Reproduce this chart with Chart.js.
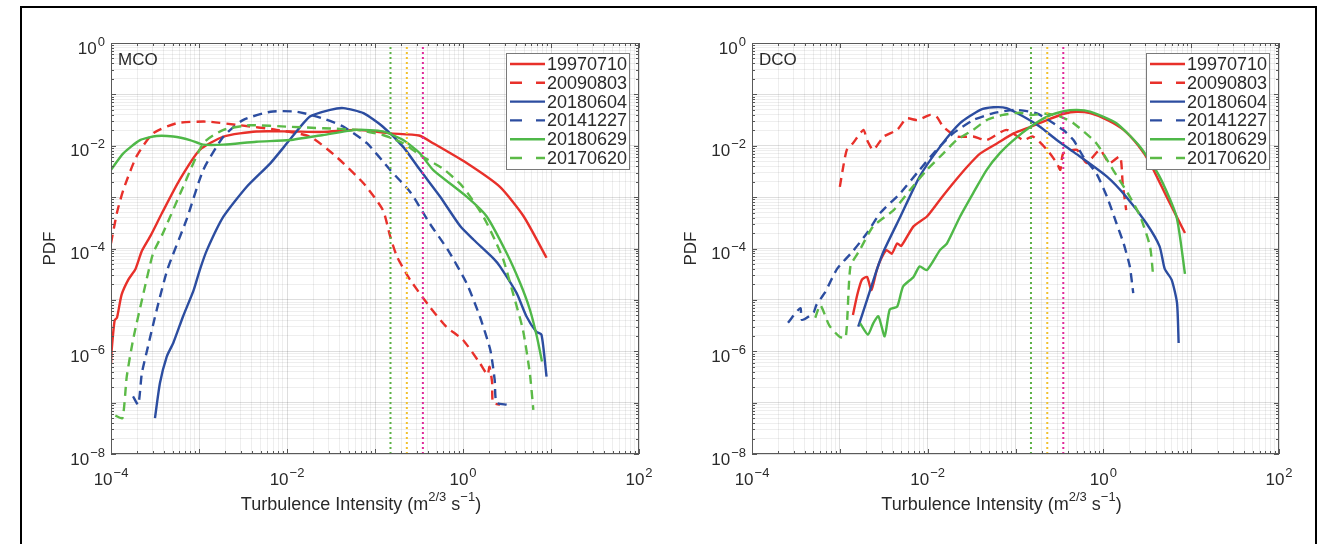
<!DOCTYPE html>
<html>
<head>
<meta charset="utf-8">
<script src="https://cdn.jsdelivr.net/npm/chart.js@4.4.1/dist/chart.umd.min.js"></script>
<style>
    html, body { margin: 0; padding: 0; background: #fff; }
    #fig { position: relative; width: 1323px; height: 544px; overflow: hidden; background: #fff; }
    #frame { position: absolute; left: 20px; top: 6px; width: 1297px; height: 600px; border: 2px solid #000; box-sizing: border-box; }
    .panel { position: absolute; top: 0; height: 544px; }
</style>
</head>
<body>
<div id="fig">
    <div id="frame"></div>
    <div class="panel" style="left:0;width:661px"><canvas id="chart-mco"></canvas></div>
    <div class="panel" style="left:661px;width:662px"><canvas id="chart-dco"></canvas></div>
</div>
<script>
// ─── Data ─────────────────────────────────────────────────────────────────────
const seriesLabels = ["19970710", "20090803", "20180604", "20141227", "20180629", "20170620"];
const seriesColors = ["#e8302a", "#e8302a", "#2c4da0", "#2c4da0", "#4fb848", "#5cba47"];
const seriesDashed = [false, true, false, true, false, true];

// vertical dotted reference lines (same in both panels)
const refLineX = [0.15, 0.23, 0.35];
const refLineColors = ["#5cb245", "#f2c12e", "#e0299a"];

const xTickValues = [1e-4, 1e-2, 1, 1e2];
const xTickExps = ["\u22124", "\u22122", "0", "2"];
const yTickValues = [1e-8, 1e-6, 1e-4, 1e-2, 1];
const yTickExps = ["\u22128", "\u22126", "\u22124", "\u22122", "0"];

// MCO panel, [turbulence intensity, pdf]
const mco19970710 = [
    [1.0e-4, 5.6e-7], [1.02e-4, 1.1e-6], [1.1e-4, 4.0e-6], [1.17e-4, 4.5e-6], [1.32e-4, 1.26e-5],
    [1.58e-4, 2.5e-5], [1.9e-4, 4.0e-5], [2.24e-4, 8.9e-5], [2.82e-4, 1.78e-4], [3.8e-4, 4.9e-4],
    [6.0e-4, 2.14e-3], [1.02e-3, 8.3e-3], [1.9e-3, 1.51e-2], [4.5e-3, 1.9e-2], [1.07e-2, 1.9e-2],
    [2.57e-2, 1.86e-2], [6.2e-2, 2.04e-2], [0.148, 1.74e-2], [0.316, 1.58e-2], [0.457, 1.12e-2],
    [1.1, 4.6e-3], [2.63, 1.58e-3], [4.9, 4.2e-4], [8.9, 6.6e-5],
];
const mco20090803 = [
    [1.0e-4, 1.26e-4], [1.17e-4, 5.0e-4], [1.38e-4, 1.38e-3], [1.95e-4, 6.2e-3], [3.0e-4, 1.74e-2],
    [5.6e-4, 2.75e-2], [1.23e-3, 2.95e-2], [2.95e-3, 2.5e-2], [7.6e-3, 2.04e-2], [1.82e-2, 1.51e-2],
    [3.6e-2, 6.2e-3], [7.4e-2, 1.86e-3], [0.123, 5.6e-4], [0.148, 1.78e-4], [0.178, 6.9e-5],
    [0.251, 2.45e-5], [0.417, 7.4e-6], [0.646, 3.0e-6], [1.0, 1.66e-6], [1.55, 5.9e-7],
    [1.9, 3.5e-7], [2.0, 5.0e-7], [2.14, 2.5e-7], [2.19, 1.0e-7], [2.63, 9.1e-8],
];
const mco20180604 = [
    [3.16e-4, 5.0e-8], [3.6e-4, 2.4e-7], [4.3e-4, 7.9e-7], [5.1e-4, 1.45e-6], [6.6e-4, 4.8e-6],
    [8.7e-4, 1.55e-5], [1.02e-3, 3.8e-5], [1.23e-3, 9.3e-5], [1.9e-3, 4.2e-4], [3.47e-3, 1.58e-3],
    [6.5e-3, 4.6e-3], [1.07e-2, 1.29e-2], [1.82e-2, 3.7e-2], [3.1e-2, 5.0e-2], [4.4e-2, 5.4e-2],
    [7.4e-2, 4.3e-2], [0.123, 2.34e-2], [0.209, 9.5e-3], [0.324, 3.4e-3], [0.55, 1.02e-3],
    [0.933, 2.7e-4], [1.32, 1.48e-4], [2.24, 6.3e-5], [2.63, 4.5e-5], [4.07, 1.35e-5],
    [5.25, 4.8e-6], [6.8, 2.4e-6], [7.8, 2.1e-6], [8.9, 3.2e-7],
];
const mco20141227 = [
    [1.78e-4, 1.32e-7], [2.04e-4, 9.1e-8], [2.24e-4, 3.7e-7], [2.63e-4, 1.23e-6], [3.3e-4, 6.3e-6],
    [4.4e-4, 4.0e-5], [7.2e-4, 3.6e-4], [1.12e-3, 3.4e-3], [1.9e-3, 1.51e-2], [3.16e-3, 3.16e-2],
    [6.5e-3, 4.6e-2], [1.29e-2, 4.6e-2], [2.57e-2, 3.4e-2], [4.4e-2, 2.34e-2], [8.1e-2, 1.12e-2],
    [0.148, 3.4e-3], [0.251, 1.26e-3], [0.417, 3.1e-4], [0.676, 9.3e-5], [1.1, 2.1e-5],
    [1.55, 4.8e-6], [2.04, 1.07e-6], [2.29, 2.8e-7], [2.4, 1.0e-7], [3.16, 9.1e-8],
];
const mco20180629 = [
    [1.0e-4, 3.4e-3], [1.38e-4, 7.1e-3], [2.14e-4, 1.29e-2], [3.3e-4, 1.55e-2], [5.1e-4, 1.51e-2],
    [7.9e-4, 1.29e-2], [1.12e-3, 1.05e-2], [1.9e-3, 1.05e-2], [4.5e-3, 1.2e-2], [1.07e-2, 1.29e-2],
    [2.57e-2, 1.62e-2], [6.2e-2, 2.04e-2], [0.123, 1.9e-2], [0.209, 1.29e-2], [0.324, 7.1e-3],
    [0.457, 3.4e-3], [1.1, 1.02e-3], [1.86, 4.2e-4], [3.16, 7.9e-5], [4.47, 2.1e-5],
    [5.75, 6.5e-6], [6.9, 1.95e-6], [7.9, 6.3e-7],
];
const mco20170620 = [
    [1.12e-4, 5.6e-8], [1.35e-4, 5.0e-8], [1.51e-4, 3.2e-7], [1.78e-4, 1.66e-6], [2.34e-4, 1.35e-5],
    [3.0e-4, 7.9e-5], [3.9e-4, 2.0e-4], [6.6e-4, 1.58e-3], [1.12e-3, 1.12e-2], [1.9e-3, 2.04e-2],
    [3.8e-3, 2.5e-2], [1.07e-2, 2.34e-2], [2.57e-2, 2.19e-2], [6.2e-2, 2.04e-2], [0.123, 1.62e-2],
    [0.209, 1.12e-2], [0.324, 6.6e-3], [0.603, 3.5e-3], [1.0, 1.58e-3], [1.7, 4.2e-4],
    [2.4, 1.26e-4], [2.88, 6.0e-5], [3.7, 1.35e-5], [4.8, 2.6e-6], [5.75, 3.7e-7], [6.3, 7.2e-8],
];

// DCO panel
const dco19970710 = [
    [1.41e-3, 5.1e-6], [1.58e-3, 1.26e-5], [1.78e-3, 2.45e-5], [2.04e-3, 2.8e-5], [2.29e-3, 1.55e-5],
    [2.63e-3, 3.8e-5], [2.95e-3, 6.3e-5], [3.4e-3, 9.3e-5], [3.9e-3, 7.9e-5], [4.5e-3, 1.26e-4],
    [5.0e-3, 1.12e-4], [6.9e-3, 2.7e-4], [9.8e-3, 4.2e-4], [1.38e-2, 8.9e-4], [1.95e-2, 1.86e-3],
    [2.82e-2, 3.9e-3], [3.98e-2, 7.1e-3], [6.2e-2, 1.12e-2], [9.5e-2, 1.74e-2], [0.148, 2.34e-2],
    [0.229, 3.16e-2], [0.355, 4.2e-2], [0.5, 4.6e-2], [0.708, 4.3e-2], [1.12, 3.16e-2],
    [1.7, 2.04e-2], [2.51, 1.0e-2], [3.4, 4.6e-3], [5.25, 1.02e-3], [8.5, 2.0e-4],
];
const dco20090803 = [
    [1.0e-3, 1.58e-3], [1.07e-3, 3.16e-3], [1.2e-3, 8.3e-3], [1.41e-3, 1.12e-2], [1.86e-3, 2.04e-2],
    [2.04e-3, 1.29e-2], [2.4e-3, 8.3e-3], [3.16e-3, 1.51e-2], [4.5e-3, 2.04e-2], [5.75e-3, 3.4e-2],
    [7.6e-3, 3.16e-2], [1.07e-2, 3.98e-2], [1.26e-2, 3.7e-2], [1.51e-2, 2.34e-2], [2.14e-2, 1.51e-2],
    [3.3e-2, 1.51e-2], [4.7e-2, 1.29e-2], [7.9e-2, 2.04e-2], [0.123, 1.29e-2], [0.158, 1.51e-2],
    [0.229, 8.3e-3], [0.295, 4.6e-3], [0.324, 3.4e-3], [0.35, 7.1e-3], [0.5, 8.3e-3],
    [0.646, 4.6e-3], [0.912, 8.3e-3], [1.17, 4.6e-3], [1.55, 6.2e-3], [1.66, 1.86e-3], [1.82, 5.6e-4],
];
const dco20180604 = [
    [1.62e-3, 3.0e-6], [2.04e-3, 1.0e-5], [2.63e-3, 3.8e-5], [3.16e-3, 8.9e-5], [4.9e-3, 4.2e-4],
    [8.1e-3, 2.51e-3], [1.38e-2, 9.5e-3], [2.34e-2, 2.75e-2], [3.98e-2, 5.0e-2], [5.6e-2, 5.6e-2],
    [7.9e-2, 5.4e-2], [0.123, 3.7e-2], [0.19, 2.34e-2], [0.295, 1.29e-2], [0.457, 7.6e-3],
    [1.1, 2.51e-3], [1.82, 1.02e-3], [3.09, 3.1e-4], [4.37, 1.1e-4], [5.0, 4.0e-5],
    [6.0, 2.45e-5], [6.9, 8.7e-6], [7.2, 1.45e-6],
];
const dco20141227 = [
    [2.57e-4, 3.6e-6], [3.55e-4, 6.9e-6], [3.7e-4, 4.1e-6], [5.0e-4, 5.6e-6], [5.4e-4, 7.9e-6],
    [6.8e-4, 1.41e-5], [9.3e-4, 4.0e-5], [1.41e-3, 8.9e-5], [2.04e-3, 2.0e-4], [2.88e-3, 4.9e-4],
    [4.9e-3, 1.2e-3], [8.1e-3, 3.4e-3], [1.26e-2, 8.3e-3], [1.95e-2, 1.74e-2], [3.3e-2, 3.16e-2],
    [5.6e-2, 4.3e-2], [0.1, 5.0e-2], [0.178, 4.2e-2], [0.347, 2.04e-2], [0.457, 1.29e-2],
    [0.589, 6.2e-3], [0.832, 2.9e-3], [1.1, 1.02e-3], [1.41, 3.1e-4], [1.7, 1.26e-4],
    [2.0, 4.5e-5], [2.19, 1.35e-5],
];
const dco20180629 = [
    [1.7e-3, 3.5e-6], [2.09e-3, 2.1e-6], [2.4e-3, 3.5e-6], [2.75e-3, 4.8e-6], [3.24e-3, 1.95e-6],
    [3.7e-3, 6.5e-6], [4.5e-3, 7.4e-6], [5.25e-3, 1.82e-5], [6.9e-3, 2.8e-5], [8.1e-3, 4.5e-5],
    [9.8e-3, 3.8e-5], [1.38e-2, 9.3e-5], [1.66e-2, 1.26e-4], [2.34e-2, 4.2e-4], [3.3e-2, 1.2e-3],
    [4.7e-2, 3.4e-3], [6.6e-2, 7.1e-3], [9.5e-2, 1.29e-2], [0.148, 2.34e-2], [0.229, 3.7e-2],
    [0.355, 4.7e-2], [0.5, 5.0e-2], [0.708, 4.6e-2], [1.41, 2.75e-2], [2.63, 9.5e-3],
    [4.37, 2.51e-3], [6.8, 4.2e-4], [8.5, 3.2e-5],
];
const dco20170620 = [
    [5.25e-4, 4.5e-6], [6.0e-4, 7.9e-6], [7.6e-4, 3.16e-6], [1.0e-3, 1.9e-6], [1.17e-3, 1.9e-6],
    [1.32e-3, 4.5e-5], [1.66e-3, 8.9e-5], [2.4e-3, 2.7e-4], [4.1e-3, 5.6e-4], [6.3e-3, 1.38e-3],
    [9.8e-3, 3.4e-3], [1.51e-2, 7.1e-3], [2.14e-2, 1.29e-2], [3.3e-2, 2.04e-2], [4.7e-2, 3.16e-2],
    [7.2e-2, 3.98e-2], [0.112, 4.4e-2], [0.148, 3.98e-2], [0.224, 4.2e-2], [0.324, 3.7e-2],
    [0.457, 2.75e-2], [0.832, 1.12e-2], [1.29, 3.4e-3], [2.0, 1.02e-3], [2.63, 4.2e-4],
    [3.4, 1.1e-4], [3.7, 2.8e-5],
];

const mcoCurves = [mco19970710, mco20090803, mco20180604, mco20141227, mco20180629, mco20170620];
const dcoCurves = [dco19970710, dco20090803, dco20180604, dco20141227, dco20180629, dco20170620];

// ─── Style ────────────────────────────────────────────────────────────────────
const FONT = '"Liberation Sans", Arial, sans-serif';
const TEXT_COLOR = "#2a2a2a";
const GRID_MAJOR = "rgba(0,0,0,0.13)";
const GRID_MINOR = "rgba(0,0,0,0.065)";

function isDecade(v) {
    const l = Math.log10(v);
    return Math.abs(l - Math.round(l)) < 1e-6;
}

// 1..9 x 10^n grid positions for a log axis
function gridValues(min, max) {
    const out = [];
    for (let n = Math.round(Math.log10(min)); n < Math.round(Math.log10(max)); n++) {
        for (let m = 1; m < 10; m++) out.push(m * Math.pow(10, n));
    }
    out.push(max);
    return out;
}

function logScale(min, max) {
    return {
        type: "logarithmic",
        min, max,
        afterBuildTicks: (s) => { s.ticks = gridValues(min, max).map((v) => ({ value: v })); },
        ticks: { display: false },
        grid: {
            drawTicks: false,
            lineWidth: 1,
            color: (c) => (c.tick && isDecade(c.tick.value) ? GRID_MAJOR : GRID_MINOR),
        },
        border: { display: false },
    };
}

// "10" with a raised exponent, anchored at (x, y) = middle of the base text
function drawPower(ctx, exp, x, y, align) {
    ctx.font = "17px " + FONT;
    const wb = ctx.measureText("10").width;
    ctx.font = "13px " + FONT;
    const we = ctx.measureText(exp).width;
    const w = wb + we + 1;
    let x0 = x;
    if (align === "right") x0 = x - w;
    else if (align === "center") x0 = x - w / 2;
    ctx.textAlign = "left";
    ctx.textBaseline = "middle";
    ctx.font = "17px " + FONT;
    ctx.fillText("10", x0, y);
    ctx.font = "13px " + FONT;
    ctx.fillText(exp, x0 + wb + 1, y - 7);
}

function drawRuns(ctx, runs, x, y, align) {
    // runs: [text, size, dy]
    let w = 0;
    runs.forEach(([t, s]) => { ctx.font = s + "px " + FONT; w += ctx.measureText(t).width; });
    let cx = align === "center" ? x - w / 2 : x;
    ctx.textAlign = "left";
    ctx.textBaseline = "middle";
    runs.forEach(([t, s, dy]) => {
        ctx.font = s + "px " + FONT;
        ctx.fillText(t, cx, y + dy);
        cx += ctx.measureText(t).width;
    });
}

const panelDecor = {
    id: "panelDecor",
    afterDatasetsDraw(chart, args, opts) {
        const { ctx, chartArea: a, scales: { x, y } } = chart;
        ctx.save();
        // inner tick marks on all four sides
        ctx.strokeStyle = "#555";
        ctx.lineWidth = 1;
        ctx.beginPath();
        x.ticks.forEach((t) => {
            const px = Math.round(x.getPixelForValue(t.value)) + 0.5;
            const len = isDecade(t.value) ? 5 : 3;
            ctx.moveTo(px, a.bottom); ctx.lineTo(px, a.bottom - len);
            ctx.moveTo(px, a.top); ctx.lineTo(px, a.top + len);
        });
        y.ticks.forEach((t) => {
            const py = Math.round(y.getPixelForValue(t.value)) + 0.5;
            const len = isDecade(t.value) ? 5 : 3;
            ctx.moveTo(a.left, py); ctx.lineTo(a.left + len, py);
            ctx.moveTo(a.right, py); ctx.lineTo(a.right - len, py);
        });
        ctx.stroke();
        ctx.strokeStyle = "#5a5a5a";
        ctx.strokeRect(a.left + 0.5, a.top + 0.5, a.width - 1, a.height - 1);
        ctx.restore();
    },
    afterDraw(chart, args, opts) {
        const { ctx, chartArea: a, scales: { x, y } } = chart;
        ctx.save();
        ctx.fillStyle = TEXT_COLOR;

        yTickValues.forEach((v, i) => drawPower(ctx, yTickExps[i], a.left - 6, y.getPixelForValue(v) + 6, "right"));
        xTickValues.forEach((v, i) => drawPower(ctx, xTickExps[i], x.getPixelForValue(v), a.bottom + 26, "center"));

        drawRuns(ctx, [
            ["Turbulence Intensity (m", 18, 0], ["2/3", 13, -8], [" s", 18, 0], ["\u22121", 13, -8], [")", 18, 0],
        ], a.left + a.width / 2 + opts.titleShift, a.bottom + 51, "center");

        ctx.save();
        ctx.translate(a.left - 61, (a.top + a.bottom) / 2);
        ctx.rotate(-Math.PI / 2);
        ctx.font = "17px " + FONT;
        ctx.textAlign = "center";
        ctx.textBaseline = "middle";
        ctx.fillText("PDF", 0, 0);
        ctx.restore();

        ctx.font = "17px " + FONT;
        ctx.textAlign = "left";
        ctx.textBaseline = "alphabetic";
        ctx.fillText(opts.name, a.left + 7, a.top + 22);

        // legend
        const lw = 124, lh = 117;
        const lx = a.right - 9 - lw, ly = a.top + 10;
        ctx.fillStyle = "#fff";
        ctx.fillRect(lx, ly, lw, lh);
        ctx.strokeStyle = "#7a7a7a";
        ctx.lineWidth = 1;
        ctx.strokeRect(lx + 0.5, ly + 0.5, lw - 1, lh - 1);
        seriesLabels.forEach((lab, i) => {
            const cy = ly + 11 + i * 18.8;
            ctx.strokeStyle = seriesColors[i];
            ctx.lineWidth = 2.4;
            ctx.setLineDash(seriesDashed[i] ? [12, 14] : []);
            ctx.beginPath();
            ctx.moveTo(lx + 4, cy);
            ctx.lineTo(lx + 39, cy);
            ctx.stroke();
            ctx.setLineDash([]);
            ctx.fillStyle = TEXT_COLOR;
            ctx.font = "18px " + FONT;
            ctx.textBaseline = "middle";
            ctx.fillText(lab, lx + 41, cy + 1);
        });
        ctx.restore();
    },
};

function buildDatasets(curves) {
    const sets = refLineX.map((v, i) => ({
        label: "ref" + i,
        data: [{ x: v, y: 1e-8 }, { x: v, y: 1 }],
        borderColor: refLineColors[i],
        borderWidth: 2,
        borderDash: [2, 3],
        pointRadius: 0,
        order: 0,
    }));
    curves.forEach((pts, i) => sets.push({
        label: seriesLabels[i],
        data: pts.map(([px, py]) => ({ x: px, y: py })),
        borderColor: seriesColors[i],
        borderWidth: 2.4,
        borderDash: seriesDashed[i] ? [9, 6] : [],
        pointRadius: 0,
        tension: 0.2,
        order: 6 - i,
    }));
    return sets;
}

function makeChart(id, curves, opts) {
    return new Chart(document.getElementById(id), {
        type: "line",
        data: { datasets: buildDatasets(curves) },
        options: {
            responsive: true,
            maintainAspectRatio: false,
            animation: false,
            layout: { padding: opts.padding },
            plugins: { legend: { display: false }, tooltip: { enabled: false }, panelDecor: opts },
            scales: { x: logScale(1e-4, 1e2), y: logScale(1e-8, 1) },
        },
        plugins: [panelDecor],
    });
}

makeChart("chart-mco", mcoCurves, { name: "MCO", titleShift: -14, padding: { left: 111, top: 43, right: 22, bottom: 90 } });
makeChart("chart-dco", dcoCurves, { name: "DCO", titleShift: -14, padding: { left: 91, top: 43, right: 44, bottom: 90 } });
</script>
</body>
</html>
